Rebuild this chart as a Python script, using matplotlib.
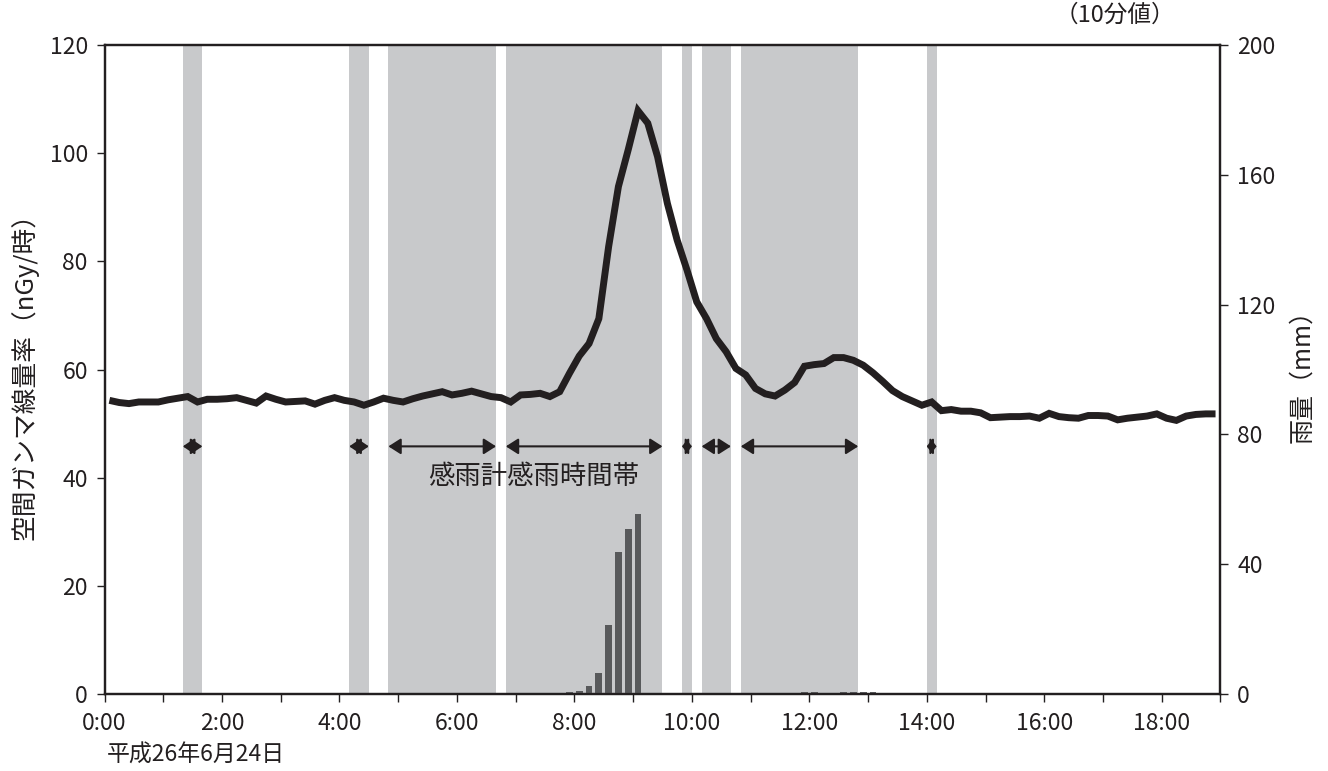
import matplotlib
matplotlib.use('Agg')
import matplotlib.pyplot as plt
import numpy as np

plt.rcParams['font.family'] = ['Noto Sans CJK JP', 'DejaVu Sans']

# 空間ガンマ線量率 10分値 (nGy/時), 0:10 ～ 19:00 (各10分間の終わりの時刻)
dose_end = ['%d:%02d' % divmod(m, 60) for m in range(10, 19 * 60 + 1, 10)]
dose = [54.3, 53.9, 53.7, 54.0, 54.0, 54.0, 54.4, 54.7, 55.0, 54.0,
        54.5, 54.5, 54.6, 54.8, 54.3, 53.8, 55.1, 54.5, 54.0, 54.1,
        54.2, 53.6, 54.3, 54.8, 54.3, 54.0, 53.4, 54.0, 54.7, 54.3,
        54.0, 54.6, 55.1, 55.5, 55.9, 55.3, 55.6, 56.0, 55.5, 55.0,
        54.8, 54.0, 55.3, 55.4, 55.6, 55.0, 55.9, 59.3, 62.5, 64.8,
        69.4, 82.7, 93.8, 100.6, 107.8, 105.5, 99.3, 90.7, 83.9, 78.4,
        72.5, 69.4, 65.7, 63.3, 60.2, 59.0, 56.5, 55.5, 55.1, 56.2,
        57.6, 60.6, 60.9, 61.1, 62.2, 62.2, 61.7, 60.8, 59.4, 57.8,
        56.1, 55.0, 54.2, 53.4, 54.0, 52.4, 52.6, 52.3, 52.3, 52.0,
        51.1, 51.2, 51.3, 51.3, 51.4, 51.0, 51.9, 51.3, 51.1, 51.0,
        51.5, 51.5, 51.4, 50.7, 51.0, 51.2, 51.4, 51.8, 51.0, 50.6,
        51.4, 51.7, 51.8, 51.8]

# 雨量 10分値 (mm)
rain_end = ['8:00', '8:10', '8:20', '8:30', '8:40', '8:50', '9:00', '9:10',
            '12:00', '12:10', '12:40', '12:50', '13:00', '13:10']
rain_mm = [0.7, 1.1, 2.4, 6.6, 21.4, 43.8, 50.8, 55.4,
           0.7, 0.7, 0.7, 0.7, 0.7, 0.7]

# 感雨計 感雨時間帯
band_start = ['1:20', '4:10', '4:50', '6:50', '9:50', '10:10', '10:50', '14:00']
band_end = ['1:40', '4:30', '6:40', '9:30', '10:00', '10:40', '12:50', '14:10']

x_ticks = list(range(0, 20))
x_labels = ['%d:00' % h if h % 2 == 0 and h < 19 else '' for h in x_ticks]


def hours(s):
    h, m = s.split(':')
    return int(h) + int(m) / 60.0


def main():
    fig = plt.figure(figsize=(13.28, 7.71), dpi=100)
    ax = fig.add_subplot(111)
    ax2 = ax.twinx()
    fig.subplots_adjust(left=0.0787, right=0.919, bottom=0.0995, top=0.942)

    black = '#231f20'
    half = 5 / 60.0

    for s, e in zip(band_start, band_end):
        ax.axvspan(hours(s), hours(e), color='#c8c9cb', lw=0, zorder=0)

    x_dose = np.array([hours(t) for t in dose_end]) - half
    ax.plot(x_dose, dose, color=black, lw=5, solid_joinstyle='miter',
            solid_capstyle='butt', zorder=3)

    x_rain = np.array([hours(t) for t in rain_end]) - half
    ax2.bar(x_rain, rain_mm, width=0.115, color='#58595b', zorder=2)

    # 感雨時間帯の矢印
    px_per_hour = 1116.0 / 19
    for s, e in zip(band_start, band_end):
        x0, x1 = hours(s), hours(e)
        length_pt = (x1 - x0) * px_per_hour * 0.72
        hl = min(7.5, length_pt / 2) / 10.0
        ax.annotate('', xy=(x1, 45.8), xytext=(x0, 45.8),
                    arrowprops=dict(arrowstyle='<|-|>,head_length=%.3f,head_width=0.48' % hl,
                                    mutation_scale=10, lw=1.5, color=black,
                                    shrinkA=0, shrinkB=0), zorder=4)
    ax.text(7.3, 40.2, '感雨計感雨時間帯', ha='center', va='center', fontsize=19,
            color=black)

    ax.set_xlim(0, 19)
    ax.set_ylim(0, 120)
    ax2.set_ylim(0, 200)
    ax.set_xticks(x_ticks)
    ax.set_xticklabels(x_labels)
    ax.set_yticks(range(0, 121, 20))
    ax2.set_yticks(range(0, 201, 40))

    for a in (ax, ax2):
        a.tick_params(direction='out', length=6, width=1, labelsize=16.5,
                      colors=black, pad=6)
        for sp in a.spines.values():
            sp.set_linewidth(1.6)
            sp.set_color(black)
    ax.tick_params(axis='x', pad=7)

    ax.set_ylabel('空間ガンマ線量率（nGy/時）', fontsize=18.5, color=black, labelpad=8)
    ax2.set_ylabel('雨量（mm）', fontsize=18, color=black, labelpad=10)

    fig.text(107 / 1328, 1 - 755 / 771, '平成26年6月24日', ha='left', va='center',
             fontsize=16.5, color=black)
    fig.text(1115 / 1328, 1 - 15 / 771, '（10分値）', ha='center', va='center',
             fontsize=17, color=black)

    fig.savefig('out.png', dpi=100)


if __name__ == '__main__':
    main()
